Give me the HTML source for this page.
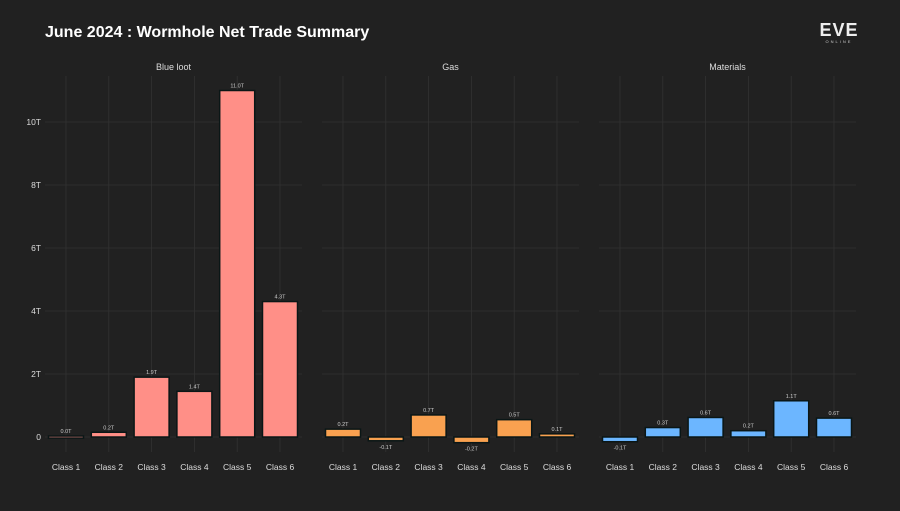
<!DOCTYPE html>
<html><head><meta charset="utf-8"><style>
body{margin:0;background:#212121;width:900px;height:506px;overflow:hidden;font-family:"Liberation Sans",sans-serif}
</style></head><body>
<svg id="c" width="900" height="506" xmlns="http://www.w3.org/2000/svg">
<rect width="900" height="506" fill="#212121"/>
<text x="45" y="37" fill="#fff" font-size="16" font-weight="bold">June 2024 : Wormhole Net Trade Summary</text>
<g>
<text x="839" y="36" fill="#eee" font-size="18" font-weight="bold" text-anchor="middle" letter-spacing="1">EVE</text>
<text x="839" y="43" fill="#ccc" font-size="4" text-anchor="middle" letter-spacing="2">ONLINE</text>
</g>
</svg>
<script>
const categories=["Class 1","Class 2","Class 3","Class 4","Class 5","Class 6"];
const panelNames=["Blue loot","Gas","Materials"];
const blueLoot=[0.03,0.15,1.9,1.45,11.0,4.3];
const gas=[0.25,-0.12,0.7,-0.18,0.55,0.1];
const materials=[-0.15,0.3,0.62,0.2,1.15,0.6];
const valueLabels=[["0.0T","0.2T","1.9T","1.4T","11.0T","4.3T"],["0.2T","-0.1T","0.7T","-0.2T","0.5T","0.1T"],["-0.1T","0.3T","0.6T","0.2T","1.1T","0.6T"]];
const yTicks=[0,2,4,6,8,10];
const yTickLabels=["0","2T","4T","6T","8T","10T"];
const series=[blueLoot,gas,materials];
const colors=["#ff8f87","#f9a150","#6cb6ff"];
const svg=document.getElementById('c');
const NS="http://www.w3.org/2000/svg";
const y=v=>437-v*31.5;
function mk(t,a,p){const e=document.createElementNS(NS,t);for(const k in a)e.setAttribute(k,a[k]);(p||svg).appendChild(e);return e;}
const panelX=[45,322,599],pw=257;
panelX.forEach((px,pi)=>{
 const g=mk('g',{});
 
 
 const x=i=>px+21+i*42.8;
 yTicks.forEach(t=>{const l=mk('line',{x1:px,x2:px+pw,y1:y(t),y2:y(t),stroke:'#323232','stroke-width':0.8},g);
  });
 categories.forEach((c,i)=>{const l=mk('line',{x1:x(i),x2:x(i),y1:76,y2:452,stroke:'#323232','stroke-width':0.8},g);
  });
 const tt=mk('text',{x:px+pw/2,y:70,fill:'#ddd','font-size':9,'text-anchor':'middle'},g);tt.textContent=panelNames[pi];
 
 if(pi===0)yTicks.forEach((t,k)=>{const e=mk('text',{x:41,y:y(t)+3,fill:'#ddd','font-size':8.5,'text-anchor':'end'},g);e.textContent=yTickLabels[k];
  });
 series[pi].forEach((v,i)=>{
  const top=Math.min(y(v),y(0)),h=Math.max(Math.abs(y(v)-y(0)),2);
  const r=mk('rect',{x:x(i)-17.5,y:top,width:35,height:h,fill:colors[pi],stroke:'#0a1616','stroke-width':1.5},g);
  
  
  const ly=v>=0?y(v)-3:y(v)+8;
  const t=mk('text',{x:x(i),y:ly,fill:'#ccc','font-size':5.5,'text-anchor':'middle'},g);t.textContent=valueLabels[pi][i];
  
  const xl=mk('text',{x:x(i),y:470,fill:'#ddd','font-size':8.5,'text-anchor':'middle'},g);xl.textContent=categories[i];
  
 });
});
</script>
</body></html>
